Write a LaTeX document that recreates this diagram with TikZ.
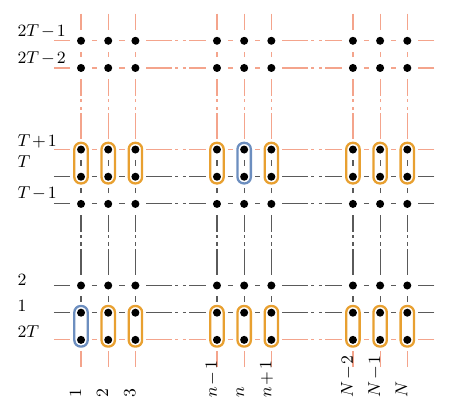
\documentclass[tikz,border=0pt]{standalone}
\usetikzlibrary{fit}

\definecolor{salmon}{RGB}{244,164,140}
\definecolor{gridgray}{RGB}{90,90,90}
\definecolor{pairorange}{RGB}{232,160,48}
\definecolor{pairblue}{RGB}{108,142,191}

\tikzset{
    site/.style={circle, fill=black, inner sep=0pt, minimum size=4.2pt},
    link/.style={line width=0.6pt, shorten <=3.4pt, shorten >=3.4pt},
    skip/.style={link, dash pattern=on 13.6pt off 1.6pt on 1.6pt off 2.4pt on 1.6pt off 1.6pt on 40pt off 1pt},
    tail/.style={line width=0.6pt, shorten >=3.4pt},
    pair/.style={draw=#1, line width=1.2pt, rounded corners=3.3pt, inner sep=1.2pt},
    pair/.default=pairorange,
    label text/.style={inner sep=0pt, font={\fontsize{9.5}{11}\selectfont\medmuskip=2mu\relax}},
    rowlabel/.style={label text, anchor=base west},
    collabel/.style={label text, anchor=base west, rotate=90}
}

\begin{document}
\begin{tikzpicture}[x=0.5cm, y=0.5cm]
    \useasboundingbox (-2.98,-2.57) rectangle (13.57,12.5);

    % Sites
    \foreach \x [count=\c] in {0,1,2,5,6,7,10,11,12} {
        \foreach \y [count=\r] in {0,1,2,5,6,7,10,11} {
            \node[site] (d\c-\r) at (\x,\y) {};
        }
        \coordinate (s\c) at (\x,-1);
        \coordinate (n\c) at (\x,12);
    }
    \foreach \y [count=\r] in {0,1,2,5,6,7,10,11} {
        \coordinate (w\r) at (-1,\y);
        \coordinate (e\r) at (13,\y);
    }

    % Horizontal lines
    \foreach \r/\col in {1/salmon,2/gridgray,3/gridgray,4/gridgray,5/gridgray,6/salmon,7/salmon,8/salmon} {
        \draw[tail,\col] (w\r) -- (d1-\r);
        \foreach \a/\b/\kind in {1/2/link,2/3/link,3/4/skip,4/5/link,5/6/link,6/7/skip,7/8/link,8/9/link}
            \draw[\kind,\col] (d\a-\r) -- (d\b-\r);
        \draw[tail,\col] (e\r) -- (d9-\r);
    }

    % Vertical lines
    \foreach \c in {1,...,9} {
        \draw[tail,salmon] (s\c) -- (d\c-1);
        \draw[link,gridgray] (d\c-2) -- (d\c-3);
        \draw[skip,gridgray] (d\c-3) -- (d\c-4);
        \draw[link,gridgray] (d\c-4) -- (d\c-5);
        \draw[link,gridgray] (d\c-5) -- (d\c-6);
        \draw[skip,salmon] (d\c-6) -- (d\c-7);
        \draw[link,salmon] (d\c-7) -- (d\c-8);
        \draw[tail,salmon] (n\c) -- (d\c-8);
    }

    % Pairs
    \node[pair=pairblue, fit=(d1-1)(d1-2)] (lo1) {};
    \foreach \c in {2,...,9}
        \node[pair, fit=(d\c-1)(d\c-2)] (lo\c) {};
    \node[pair=pairblue, fit=(d5-5)(d5-6)] (hi5) {};
    \foreach \c in {1,2,3,4,6,7,8,9}
        \node[pair, fit=(d\c-5)(d\c-6)] (hi\c) {};

    % Row labels
    \node[rowlabel] (l8) at (-2.35,11.15) {$2T-1$};
    \node[rowlabel] (l7) at (-2.35,10.15) {$2T-2$};
    \node[rowlabel] (l6) at (-2.35,7.1) {$T+1$};
    \node[rowlabel] (l5) at (-2.35,6.35) {$T$};
    \node[rowlabel] (l4) at (-2.35,5.2) {$T-1$};
    \node[rowlabel] (l3) at (-2.35,2.0) {$2$};
    \node[rowlabel] (l2) at (-2.35,1.05) {$1$};
    \node[rowlabel] (l1) at (-2.35,0.1) {$2T$};

    % Column labels
    \foreach \x/\t [count=\c] in {0/1,1/2,2/3,5/n-1,6/n,7/n+1,10/N-2,11/N-1,12/N}
        \node[collabel] (k\c) at (\x,-2.15) {$\t$};
\end{tikzpicture}
\end{document}
